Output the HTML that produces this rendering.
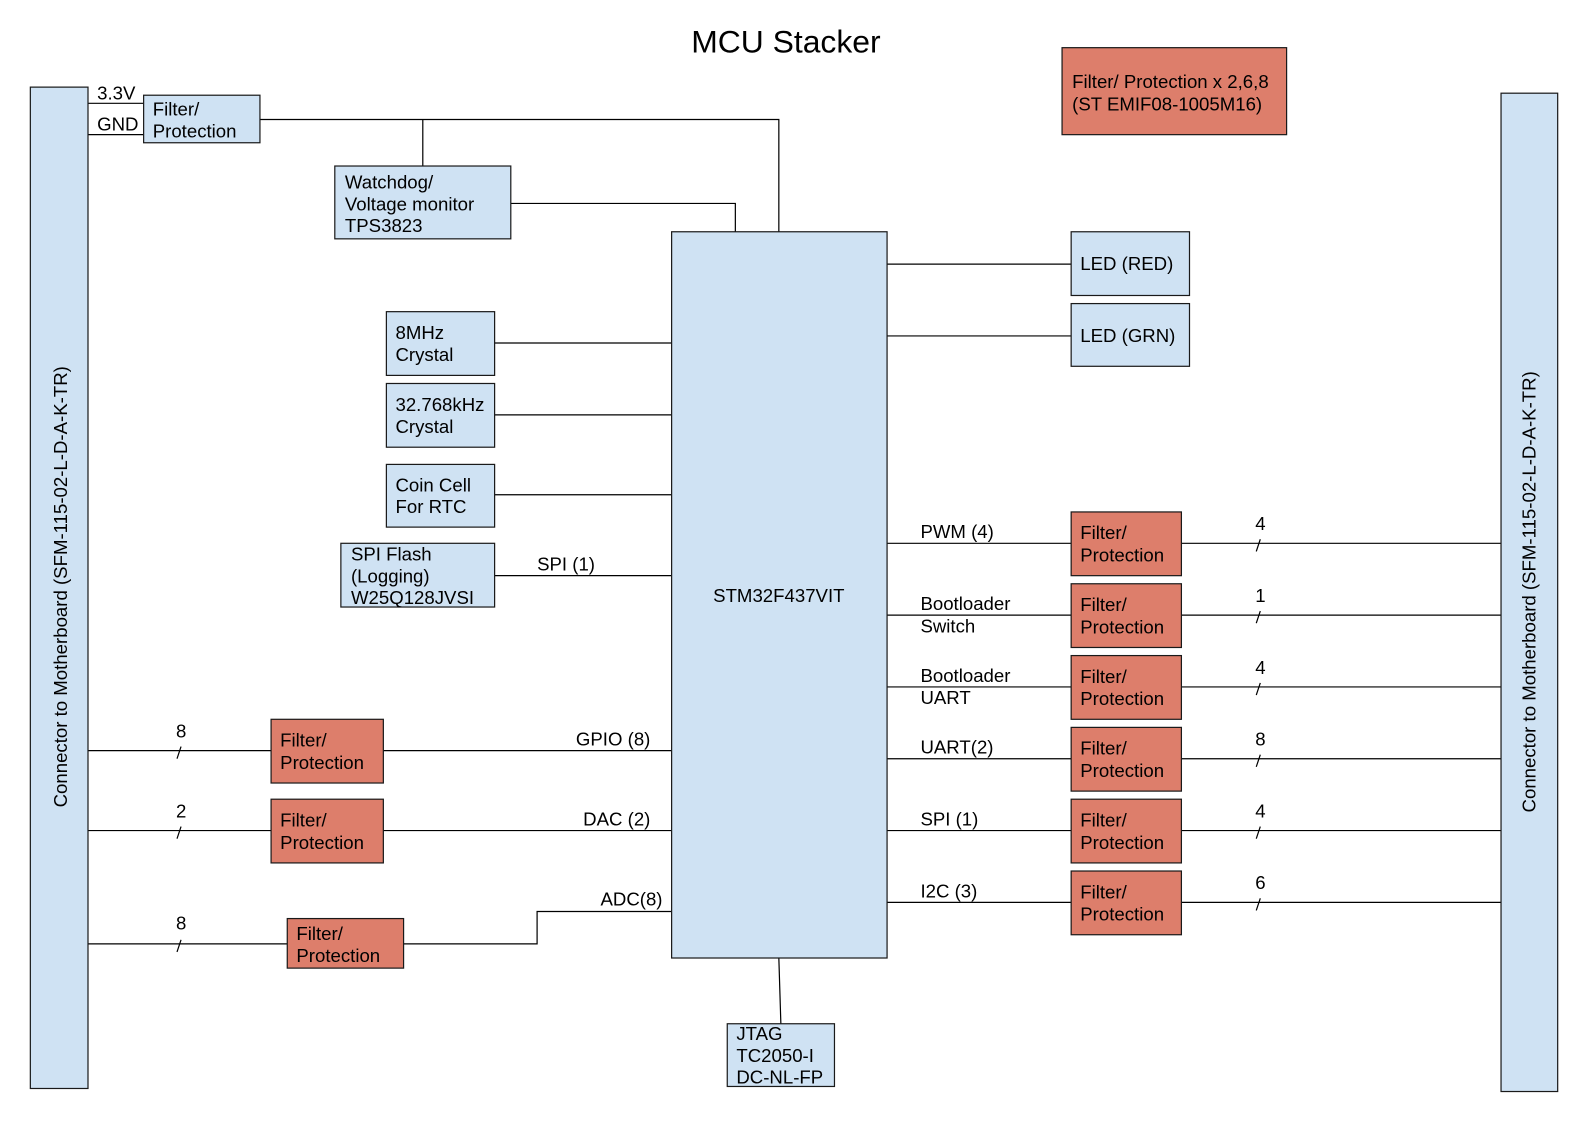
<!DOCTYPE html>
<html><head><meta charset="utf-8"><style>html,body{margin:0;padding:0;background:#fff}svg{display:block}text{font-family:"Liberation Sans",Arial,sans-serif;font-size:18.4px;fill:#000}</style></head><body>
<svg width="1586" height="1122" viewBox="0 0 1568 1109" xmlns="http://www.w3.org/2000/svg">
<g stroke="#000" stroke-width="1.2" fill="none">
<line x1="87" y1="102" x2="142" y2="102"/>
<line x1="87" y1="133" x2="142" y2="133"/>
<polyline points="257,118 770,118 770,229"/>
<line x1="418" y1="118" x2="418" y2="164"/>
<polyline points="505,201 727,201 727,229"/>
<line x1="877" y1="261" x2="1059" y2="261"/>
<line x1="877" y1="332" x2="1059" y2="332"/>
<line x1="489" y1="339" x2="664" y2="339"/>
<line x1="489" y1="410" x2="664" y2="410"/>
<line x1="489" y1="489" x2="664" y2="489"/>
<line x1="489" y1="569" x2="664" y2="569"/>
<line x1="877" y1="537" x2="1484" y2="537"/>
<line x1="877" y1="608" x2="1484" y2="608"/>
<line x1="877" y1="679" x2="1484" y2="679"/>
<line x1="877" y1="750" x2="1484" y2="750"/>
<line x1="877" y1="821" x2="1484" y2="821"/>
<line x1="877" y1="892" x2="1484" y2="892"/>
<line x1="1242" y1="545" x2="1246" y2="533"/>
<line x1="1242" y1="616" x2="1246" y2="604"/>
<line x1="1242" y1="687" x2="1246" y2="675"/>
<line x1="1242" y1="758" x2="1246" y2="746"/>
<line x1="1242" y1="829" x2="1246" y2="817"/>
<line x1="1242" y1="900" x2="1246" y2="888"/>
<line x1="87" y1="742" x2="664" y2="742"/>
<line x1="87" y1="821" x2="664" y2="821"/>
<line x1="87" y1="933" x2="284" y2="933"/>
<polyline points="399,933 531,933 531,901 664,901"/>
<line x1="175" y1="750" x2="179" y2="738"/>
<line x1="175" y1="829" x2="179" y2="817"/>
<line x1="175" y1="941" x2="179" y2="929"/>
<line x1="770" y1="947" x2="772" y2="1012"/>
</g>
<g stroke="#1a1a1a" stroke-width="1.2" fill="#cfe2f3">
<rect x="30" y="86" width="57" height="990"/>
<rect x="1484" y="92" width="56" height="987"/>
<rect x="142" y="94" width="115" height="47"/>
<rect x="331" y="164" width="174" height="72"/>
<rect x="664" y="229" width="213" height="718"/>
<rect x="1059" y="229" width="117" height="63"/>
<rect x="1059" y="300" width="117" height="62"/>
<rect x="382" y="308" width="107" height="63"/>
<rect x="382" y="379" width="107" height="63"/>
<rect x="382" y="459" width="107" height="62"/>
<rect x="337" y="537" width="152" height="63"/>
<rect x="719" y="1012" width="106" height="62"/>
</g>
<g stroke="#1a1a1a" stroke-width="1.2" fill="#dd7e6b">
<rect x="1050" y="47" width="222" height="86"/>
<rect x="1059" y="506" width="109" height="63"/>
<rect x="1059" y="577" width="109" height="63"/>
<rect x="1059" y="648" width="109" height="63"/>
<rect x="1059" y="719" width="109" height="63"/>
<rect x="1059" y="790" width="109" height="63"/>
<rect x="1059" y="861" width="109" height="63"/>
<rect x="268" y="711" width="111" height="63"/>
<rect x="268" y="790" width="111" height="63"/>
<rect x="284" y="908" width="115" height="49"/>
</g>
<text x="777" y="52" text-anchor="middle" style="font-size:31.5px">MCU Stacker</text>
<text x="1060" y="87">Filter/ Protection x 2,6,8</text>
<text x="1060" y="109">(ST EMIF08-1005M16)</text>
<text transform="translate(66,580) rotate(-90)" text-anchor="middle">Connector to Motherboard (SFM-115-02-L-D-A-K-TR)</text>
<text transform="translate(1518,585) rotate(-90)" text-anchor="middle">Connector to Motherboard (SFM-115-02-L-D-A-K-TR)</text>
<text x="96" y="98">3.3V</text>
<text x="96" y="129">GND</text>
<text x="151" y="114">Filter/</text><text x="151" y="136">Protection</text>
<text x="341" y="186">Watchdog/</text><text x="341" y="208">Voltage monitor</text><text x="341" y="229">TPS3823</text>
<text x="770" y="595" text-anchor="middle">STM32F437VIT</text>
<text x="1068" y="267">LED (RED)</text>
<text x="1068" y="338">LED (GRN)</text>
<text x="391" y="335">8MHz</text><text x="391" y="357">Crystal</text>
<text x="391" y="406">32.768kHz</text><text x="391" y="428">Crystal</text>
<text x="391" y="486">Coin Cell</text><text x="391" y="507">For RTC</text>
<text x="347" y="554">SPI Flash</text><text x="347" y="576">(Logging)</text><text x="347" y="597">W25Q128JVSI</text>
<text x="531" y="564">SPI (1)</text>
<text x="910" y="532">PWM (4)</text>
<text x="910" y="603">Bootloader</text><text x="910" y="625">Switch</text>
<text x="910" y="674">Bootloader</text><text x="910" y="696">UART</text>
<text x="910" y="745">UART(2)</text>
<text x="910" y="816">SPI (1)</text>
<text x="910" y="887">I2C (3)</text>
<g>
<text x="1068" y="533">Filter/</text><text x="1068" y="555">Protection</text>
<text x="1068" y="604">Filter/</text><text x="1068" y="626">Protection</text>
<text x="1068" y="675">Filter/</text><text x="1068" y="697">Protection</text>
<text x="1068" y="746">Filter/</text><text x="1068" y="768">Protection</text>
<text x="1068" y="817">Filter/</text><text x="1068" y="839">Protection</text>
<text x="1068" y="888">Filter/</text><text x="1068" y="910">Protection</text>
<text x="277" y="738">Filter/</text><text x="277" y="760">Protection</text>
<text x="277" y="817">Filter/</text><text x="277" y="839">Protection</text>
<text x="293" y="929">Filter/</text><text x="293" y="951">Protection</text>
</g>
<text x="1241" y="524">4</text>
<text x="1241" y="595">1</text>
<text x="1241" y="666">4</text>
<text x="1241" y="737">8</text>
<text x="1241" y="808">4</text>
<text x="1241" y="879">6</text>
<text x="174" y="729">8</text>
<text x="174" y="808">2</text>
<text x="174" y="919">8</text>
<text x="643" y="737" text-anchor="end">GPIO (8)</text>
<text x="643" y="816" text-anchor="end">DAC (2)</text>
<text x="655" y="895" text-anchor="end">ADC(8)</text>
<text x="728" y="1028">JTAG</text><text x="728" y="1050">TC2050-I</text><text x="728" y="1071">DC-NL-FP</text>
</svg>
</body></html>
